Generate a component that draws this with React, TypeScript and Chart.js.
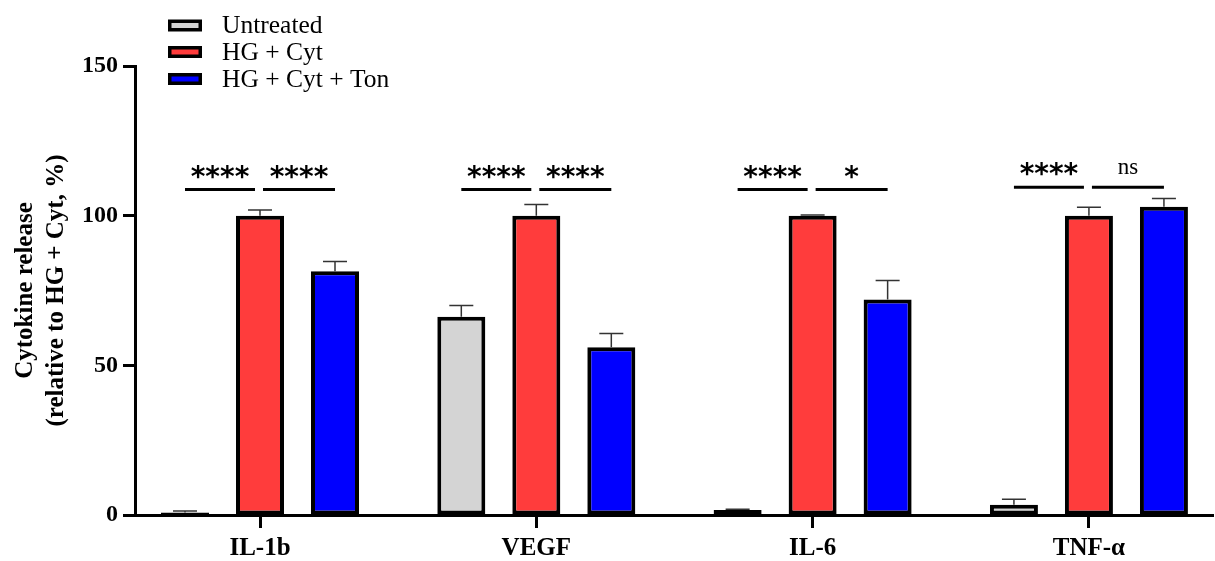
import React, { useEffect, useRef } from 'react';
import { Chart, registerables } from 'chart.js';

Chart.register(...registerables);

const categories = ['IL-1b', 'VEGF', 'IL-6', 'TNF-α'];
const seriesNames = ['Untreated', 'HG + Cyt', 'HG + Cyt + Ton'];
const untreated = [0.8, 66.2, 1.7, 3.4];
const hgCyt = [100, 100, 100, 100];
const hgCytTon = [81.4, 56.0, 72.0, 103.0];
const untreatedErr = [0.5, 3.8, 0.2, 1.9];
const hgCytErr = [1.9, 3.7, 0.2, 2.8];
const hgCytTonErr = [3.3, 4.6, 6.3, 2.7];
const yTicks = [0, 50, 100, 150];
const sigLeft = ['****', '****', '****', '****'];
const sigRight = ['****', '****', '*', 'ns'];
const sigLevel = [108.7, 108.7, 108.7, 109.5];
const colors = ['#d4d4d4', '#ff3c3c', '#0000ff'];

const SERIF = "'Liberation Serif', 'Times New Roman', serif";

const errorBarPlugin = {
  id: 'errorBars',
  afterDatasetsDraw(chart: any) {
    const ctx = chart.ctx;
    const y = chart.scales.y;
    const errs = [untreatedErr, hgCytErr, hgCytTonErr];
    ctx.save();
    ctx.strokeStyle = '#333';
    ctx.lineWidth = 1.5;
    chart.data.datasets.forEach((ds: any, di: number) => {
      const meta = chart.getDatasetMeta(di);
      meta.data.forEach((el: any, i: number) => {
        const v = ds.data[i].y;
        const e = errs[di][i];
        const yTop = y.getPixelForValue(v + e);
        const yBar = y.getPixelForValue(v);
        ctx.beginPath();
        ctx.moveTo(el.x, yBar);
        ctx.lineTo(el.x, yTop);
        ctx.moveTo(el.x - 12, yTop);
        ctx.lineTo(el.x + 12, yTop);
        ctx.stroke();
      });
    });
    ctx.restore();
  },
};

function drawCenteredText(ctx: any, text: string, cx: number, cy: number) {
  const m = ctx.measureText(text);
  const asc = m.actualBoundingBoxAscent;
  const desc = m.actualBoundingBoxDescent;
  ctx.fillText(text, cx, cy + (asc - desc) / 2);
}

const sigPlugin = {
  id: 'significance',
  afterDatasetsDraw(chart: any) {
    const ctx = chart.ctx;
    const y = chart.scales.y;
    const m0 = chart.getDatasetMeta(0);
    const m1 = chart.getDatasetMeta(1);
    const m2 = chart.getDatasetMeta(2);
    ctx.save();
    ctx.strokeStyle = '#000';
    ctx.fillStyle = '#000';
    ctx.lineWidth = 3;
    ctx.textAlign = 'center';
    categories.forEach((_, i) => {
      const c0 = m0.data[i].x;
      const c1 = m1.data[i].x;
      const c2 = m2.data[i].x;
      const ly = y.getPixelForValue(sigLevel[i]);
      const segs = [
        [c0, c1 - 5, sigLeft[i]],
        [c1 + 3, c2, sigRight[i]],
      ] as [number, number, string][];
      segs.forEach(([a, b, label]) => {
        ctx.beginPath();
        ctx.moveTo(a, ly);
        ctx.lineTo(b, ly);
        ctx.stroke();
        const mid = (a + b) / 2;
        if (label === 'ns') {
          ctx.font = `23px ${SERIF}`;
          drawCenteredText(ctx, label, mid, ly - 19);
        } else {
          ctx.font = "bold 28px 'DejaVu Sans', sans-serif";
          drawCenteredText(ctx, label, mid, ly - 18);
        }
      });
    });
    ctx.restore();
  },
};

const legendPlugin = {
  id: 'customLegend',
  afterDraw(chart: any) {
    const ctx = chart.ctx;
    ctx.save();
    const x0 = 168;
    const centers = [25.5, 52, 79];
    seriesNames.forEach((name, i) => {
      const cy = centers[i];
      ctx.fillStyle = '#000';
      ctx.fillRect(x0, cy - 6, 34, 12);
      ctx.fillStyle = colors[i];
      ctx.fillRect(x0 + 3.5, cy - 2.5, 27, 5);
      ctx.fillStyle = '#000';
      ctx.font = `25.5px ${SERIF}`;
      ctx.textAlign = 'left';
      ctx.textBaseline = 'middle';
      ctx.fillText(name, 222, cy + 1);
    });
    ctx.restore();
  },
};

export default function App() {
  const ref = useRef<HTMLCanvasElement | null>(null);
  useEffect(() => {
    document.body.style.margin = '0';
    const canvas = ref.current;
    if (!canvas) return;
    const seriesValues = [untreated, hgCyt, hgCytTon];
    const chart = new Chart(canvas, {
      type: 'bar',
      data: {
        datasets: seriesNames.map((name, di) => ({
          label: name,
          data: seriesValues[di].map((v, i) => ({ x: i, y: v })),
          backgroundColor: colors[di],
          borderColor: '#000',
          borderWidth: 4,
          borderSkipped: false,
          categoryPercentage: 0.8143,
          barPercentage: 0.64,
        })),
      },
      options: {
        animation: false,
        responsive: false,
        events: [],
        layout: { padding: { top: 66, right: 2, left: 0, bottom: 0 } },
        plugins: {
          legend: { display: false },
          tooltip: { enabled: false },
          title: { display: false },
        },
        scales: {
          x: {
            type: 'linear',
            offset: false,
            min: -0.4524,
            max: 3.449,
            afterBuildTicks: (axis: any) => {
              axis.ticks = categories.map((_, i) => ({ value: i }));
            },
            afterFit: (scale: any) => {
              scale.height = 46;
            },
            ticks: {
              callback: (v: any) => categories[Math.round(Number(v))] ?? '',
              color: '#000',
              font: { family: SERIF, size: 25, weight: 'bold' },
              padding: 6,
              maxRotation: 0,
              autoSkip: false,
            },
            grid: {
              display: true,
              offset: false,
              drawOnChartArea: false,
              drawTicks: true,
              tickLength: 13,
              tickWidth: 3,
              tickColor: '#000',
            },
            border: { display: true, color: '#000', width: 3 },
          },
          y: {
            min: 0,
            max: 150,
            afterBuildTicks: (axis: any) => {
              axis.ticks = yTicks.map((v) => ({ value: v }));
            },
            afterFit: (scale: any) => {
              scale.width = 135;
            },
            ticks: {
              color: '#000',
              font: { family: SERIF, size: 24, weight: 'bold' },
              padding: 5,
            },
            grid: {
              display: true,
              drawOnChartArea: false,
              drawTicks: true,
              tickLength: 12,
              tickWidth: 3,
              tickColor: '#000',
            },
            border: { display: true, color: '#000', width: 3 },
            title: {
              display: true,
              text: ['Cytokine release', '(relative to HG + Cyt, %)'],
              color: '#000',
              font: { family: SERIF, size: 25, weight: 'bold', lineHeight: 1.24 },
              padding: { top: 10, bottom: 0 },
            },
          },
        },
      },
      plugins: [errorBarPlugin, sigPlugin, legendPlugin],
    } as any);
    return () => chart.destroy();
  }, []);
  return (
    <div style={{ width: 1215, height: 561, background: '#fff' }}>
      <canvas ref={ref} width={1215} height={561} style={{ display: 'block' }} />
    </div>
  );
}
